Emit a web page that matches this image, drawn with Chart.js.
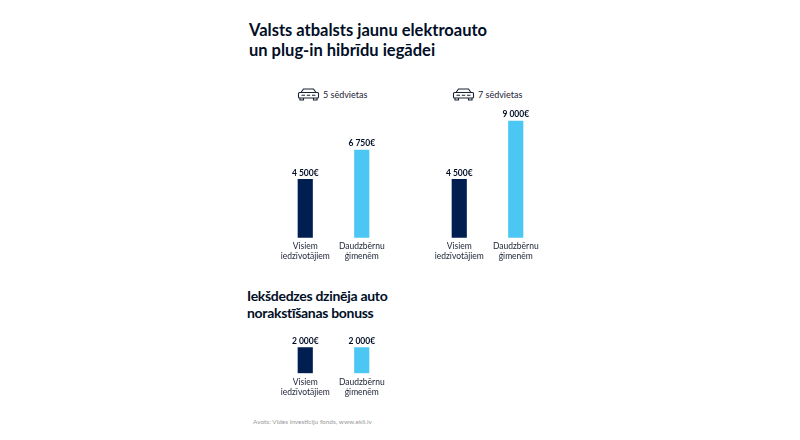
<!DOCTYPE html>
<html>
<head>
<meta charset="utf-8">
<script src="https://cdn.jsdelivr.net/npm/chart.js@4.4.0/dist/chart.umd.min.js"></script>
<style>
  html, body { margin: 0; padding: 0; background: #fff; }
  body { width: 800px; height: 440px; position: relative; overflow: hidden; font-family: Lato, "Noto Sans", sans-serif; color: #000e26; }
  .t1 { position: absolute; left: 249px; font-weight: 700; font-size: 16.5px; line-height: 19.8px; letter-spacing: 0px; white-space: nowrap; }
  .t2 { position: absolute; left: 247px; font-weight: 700; font-size: 14px; line-height: 16.8px; letter-spacing: -0.3px; white-space: nowrap; }
  .seats { position: absolute; font-size: 9px; color: #1a2233; display: flex; align-items: center; white-space: nowrap; }
  .seats svg { margin-right: 3px; }
  .src { position: absolute; left: 253px; top: 418px; font-size: 6.5px; color: #9a9a9a; }
  canvas { position: absolute; }
</style>
</head>
<body>
<div class="t1" style="top:20.6px">Valsts atbalsts jaunu elektroauto</div>
<div class="t1" style="top:40.6px">un plug-in hibrīdu iegādei</div>
<div class="seats" style="left:297px; top:88px">
  <svg width="23" height="13" viewBox="0 0 23 13"><g fill="none" stroke="#1a2233" stroke-width="1.1"><path d="M4 4.5 L6.5 1 H16.5 L19 4.5"/><rect x="1.5" y="4.5" width="20" height="5.5" rx="1"/><path d="M3 10 V12 H6.5 V10 M16.5 10 V12 H20 V10"/><path d="M4.5 7.2 H8 M15 7.2 H18.5 M9.8 7.2 H13.2"/></g></svg>
  5 sēdvietas
</div>
<div class="seats" style="left:452px; top:88px">
  <svg width="23" height="13" viewBox="0 0 23 13"><g fill="none" stroke="#1a2233" stroke-width="1.1"><path d="M4 4.5 L6.5 1 H16.5 L19 4.5"/><rect x="1.5" y="4.5" width="20" height="5.5" rx="1"/><path d="M3 10 V12 H6.5 V10 M16.5 10 V12 H20 V10"/><path d="M4.5 7.2 H8 M15 7.2 H18.5 M9.8 7.2 H13.2"/></g></svg>
  7 sēdvietas
</div>
<canvas id="c5" style="left:277px; top:100px; width:113px; height:170px"></canvas>
<canvas id="c7" style="left:431px; top:100px; width:113px; height:170px"></canvas>
<div class="t2" style="top:288.3px">Iekšdedzes dzinēja auto</div>
<div class="t2" style="top:305.3px">norakstīšanas bonuss</div>
<canvas id="cb" style="left:277px; top:330px; width:113px; height:70px"></canvas>
<div class="src">Avots: Vides investīciju fonds, www.ekii.lv</div>
<script>
// data
const categories = [['Visiem', 'iedzīvotājiem'], ['Daudzbērnu', 'ģimenēm']];
const seats5 = [4500, 6750];
const seats7 = [4500, 9000];
const scrapBonus = [2000, 2000];
const barColors = ['#001e50', '#4cc7f4'];

const fmt = v => String(v).replace(/\B(?=(\d{3})+(?!\d))/g, ' ') + '€';

const labelsPlugin = {
  id: 'barLabels',
  afterDatasetsDraw(chart) {
    const ctx = chart.ctx;
    const meta = chart.getDatasetMeta(0);
    const area = chart.chartArea;
    ctx.save();
    ctx.textAlign = 'center';
    ctx.textBaseline = 'middle';
    meta.data.forEach((el, i) => {
      ctx.fillStyle = '#000e26';
      ctx.font = 'bold 8.5px Lato, "Noto Sans", sans-serif';
      ctx.fillText(fmt(chart.data.datasets[0].data[i]), el.x, el.y - 6.5);
      ctx.fillStyle = '#1a2233';
      ctx.font = '8.5px Lato, "Noto Sans", sans-serif';
      chart.data.labels[i].forEach((line, j) => {
        ctx.fillText(line, el.x, area.bottom + 9 + j * 9.8);
      });
    });
    ctx.restore();
  }
};

function makeChart(id, values, max, pad) {
  new Chart(document.getElementById(id), {
    type: 'bar',
    data: {
      labels: categories,
      datasets: [{ data: values, backgroundColor: barColors, barThickness: 14.5 }]
    },
    options: {
      responsive: false,
      animation: false,
      layout: { padding: pad },
      scales: {
        x: { display: false },
        y: { display: false, min: 0, max: max }
      },
      plugins: { legend: { display: false }, tooltip: { enabled: false } }
    },
    plugins: [labelsPlugin]
  });
}

// canvases sized so the chart areas share one €-to-pixel scale
['c5', 'c7'].forEach(id => { const c = document.getElementById(id); c.width = 113; c.height = 170; });
const cb = document.getElementById('cb'); cb.width = 113; cb.height = 70;

makeChart('c5', seats5, 10000, { top: 8, bottom: 32.3, left: 0, right: 0 });
makeChart('c7', seats7, 10000, { top: 8, bottom: 32.3, left: 0, right: 0 });
makeChart('cb', scrapBonus, 2500, { top: 11, bottom: 26.7, left: 0, right: 0 });
</script>
</body>
</html>
